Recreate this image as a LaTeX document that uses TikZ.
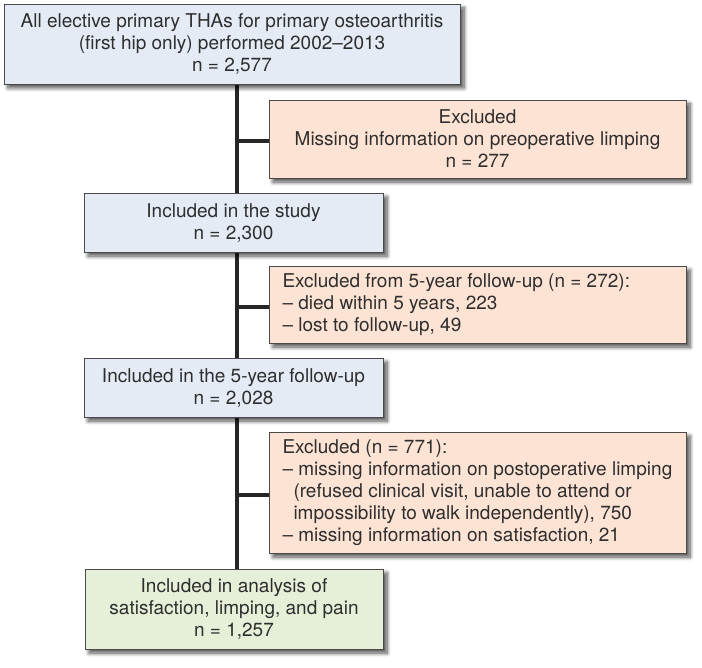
\documentclass[tikz,border=0pt]{standalone}
\usepackage{fontspec}
\setmainfont{TeX Gyre Heros}
\usetikzlibrary{shadows.blur}
\definecolor{bluefill}{HTML}{E4EBF5}
\definecolor{orangefill}{HTML}{FDE3D4}
\definecolor{greenfill}{HTML}{E6F0D9}
\definecolor{edge}{HTML}{4A4A4A}
\definecolor{txt}{HTML}{2E2E2E}
\newcommand{\listtext}[1]{\hspace*{6pt}\parbox[c]{396pt}{\raggedright\hyphenpenalty=10000 #1}}
\tikzset{
  box/.style={draw=edge, line width=0.9pt, text=txt, inner sep=0pt,
    font=\fontsize{19}{22}\selectfont,
    blur shadow={shadow xshift=4pt, shadow yshift=-4pt, shadow blur steps=8, shadow blur radius=4pt, shadow opacity=70}},
  bluebox/.style={box, fill=bluefill, align=center},
  orangebox/.style={box, fill=orangefill},
  listbox/.style={orangebox, minimum width=417pt},
  greenbox/.style={box, fill=greenfill, align=center},
  conn/.style={line width=3.6pt, color=black!85}
}
\begin{document}
\begin{tikzpicture}[x=1pt,y=-1pt]
\useasboundingbox (0,0) rectangle (702,668);
\coordinate (t) at (237,0);
% main trunk first (behind boxes)
\coordinate (top) at (237,84);
\coordinate (bot) at (237,569);
\draw[conn] (top) -- (bot);
\node[bluebox, minimum width=456pt, minimum height=80pt] (b1) at (232,44)
  {All elective primary THAs for primary osteoarthritis\\(first hip only) performed 2002--2013\\n = 2,577};
\node[orangebox, align=center, minimum width=417pt, minimum height=78pt] (b2) at (477.5,139)
  {Excluded\\Missing information on preoperative limping\\n = 277};
\node[bluebox, minimum width=299pt, minimum height=59pt] (b3) at (233.5,222.5)
  {Included in the study\\n = 2,300};
\node[listbox, minimum height=77pt] (b4) at (477.5,304.5)
  {\listtext{Excluded from 5-year follow-up (n = 272):\\-- died within 5 years, 223\\-- lost to follow-up, 49}};
\node[bluebox, minimum width=299pt, minimum height=59pt] (b5) at (233.5,387.5)
  {Included in the 5-year follow-up\\n = 2,028};
\node[listbox, minimum height=121pt] (b6) at (477.5,492.5)
  {\listtext{Excluded (n = 771):\\-- missing information on postoperative limping\\\hspace*{11pt}(refused clinical visit, unable to attend or\\\hspace*{11pt}impossibility to walk independently), 750\\-- missing information on satisfaction, 21}};
\node[greenbox, minimum width=298pt, minimum height=80pt] (b7) at (234,609)
  {Included in analysis of\\satisfaction, limping, and pain\\n = 1,257};
% branches
\draw[conn] ([yshift=-2pt]b2.west -| t) -- ([yshift=-2pt]b2.west);
\draw[conn] ([yshift=-2.5pt]b4.west -| t) -- ([yshift=-2.5pt]b4.west);
\draw[conn] ([yshift=-2.5pt]b6.west -| t) -- ([yshift=-2.5pt]b6.west);
\end{tikzpicture}
\end{document}
